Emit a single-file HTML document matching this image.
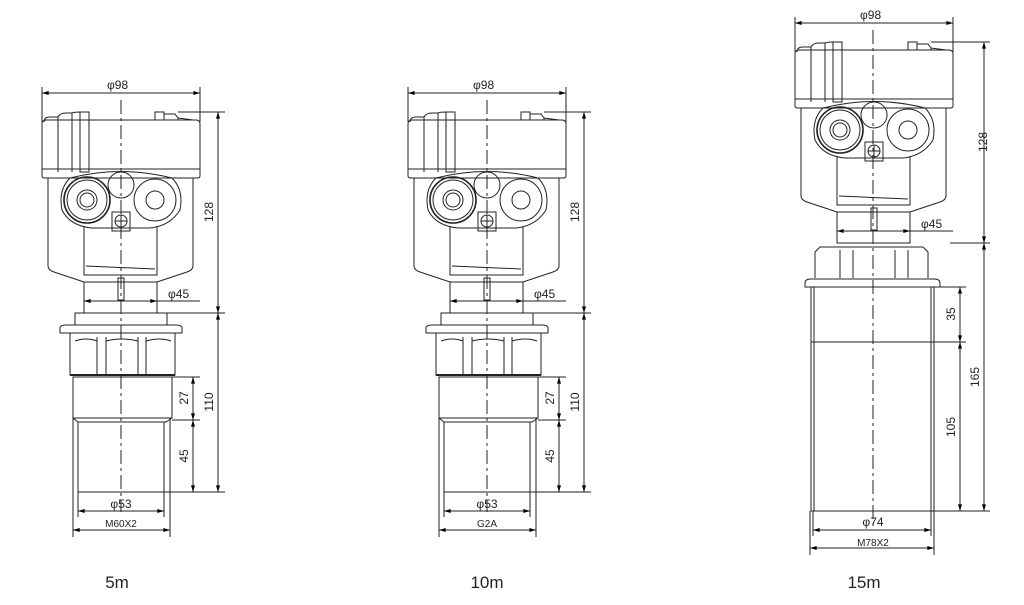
<!DOCTYPE html>
<html><head><meta charset="utf-8"><style>
html,body{margin:0;padding:0;background:#fff;}
svg{display:block}
text{font-family:"Liberation Sans",sans-serif;fill:#222}
</style></head><body>
<svg width="1024" height="605" viewBox="0 0 1024 605" xmlns="http://www.w3.org/2000/svg">
<defs>
<marker id="a" viewBox="0 0 10 6" refX="10" refY="3" markerWidth="8" markerHeight="4" orient="auto-start-reverse"><path d="M0,0 L10,3 L0,6 z" fill="#000"/></marker>
<g id="head" fill="none" stroke="#222" stroke-width="1">
  <line x1="42" y1="87" x2="42" y2="122"/>
  <line x1="200" y1="87" x2="200" y2="122"/>
  <line x1="42" y1="93" x2="200" y2="93" marker-start="url(#a)" marker-end="url(#a)"/>
  <path d="M44,122 Q44,117 50,117 L58,117 L58,172"/>
  <path d="M58,117 Q60,113 66,113 L72,113 L72,172"/>
  <path d="M72,117 L72,113 Q74,112 80,112 L80,172"/>
  <rect x="80" y="112" width="9" height="60"/>
  <rect x="155" y="112" width="9" height="8"/>
  <path d="M164,120 L164,114 L175,114 L178,118 L178,120"/>
  <path d="M178,118 L193,120"/>
  <path d="M42,124 Q42,120 46,120 L196,120 Q200,120 200,124 L200,176 Q200,178 197,178 L45,178 Q42,178 42,176 Z"/>
  <line x1="42" y1="169" x2="200" y2="169"/>
  <path d="M48,178 L48,266 Q48,270 54,272 L84,282 L157,282 L187,272 Q193,270 193,266 L193,178"/>
  <path d="M84,226 L84,275 L157,275 L157,226"/>
  <path d="M86,266 L155,269"/>
  <path d="M70,178 Q121,165 172,178 Q184,190 180,210 Q170,226 150,228 L92,228 Q70,226 62,210 Q58,190 70,178 Z"/>
  <circle cx="87" cy="200" r="23" stroke-width="1.6"/>
  <circle cx="87" cy="200" r="20"/>
  <circle cx="87" cy="200" r="10"/>
  <circle cx="87" cy="200" r="7"/>
  <circle cx="155" cy="200" r="21"/>
  <circle cx="155" cy="200" r="9"/>
  <circle cx="121" cy="185" r="13"/>
  <rect x="112" y="212" width="18" height="19"/>
  <circle cx="121" cy="221" r="6"/>
  <line x1="115" y1="221" x2="127" y2="221"/>
  <line x1="121" y1="215" x2="121" y2="227"/>
  <rect x="84" y="282" width="73" height="31"/>
  <rect x="118" y="278" width="6" height="22"/>
  <line x1="84" y1="301" x2="157" y2="301" marker-start="url(#a)" marker-end="url(#a)"/>
  <line x1="157" y1="301" x2="200" y2="301"/>
</g>
<g id="d128" fill="none" stroke="#222" stroke-width="1">
  <line x1="178" y1="112" x2="225" y2="112"/>
  <line x1="157" y1="313" x2="225" y2="313"/>
  <line x1="218" y1="112" x2="218" y2="313" marker-start="url(#a)" marker-end="url(#a)"/>
</g>
<g id="low" fill="none" stroke="#222" stroke-width="1">
  <rect x="75" y="313" width="92" height="12"/>
  <path d="M60,333 L60,328 Q60,325 66,325 L176,325 Q182,325 182,328 L182,333 Z"/>
  <rect x="70" y="333" width="105" height="42"/>
  <line x1="97" y1="337" x2="97" y2="375"/><line x1="106" y1="337" x2="106" y2="375"/>
  <line x1="138" y1="337" x2="138" y2="375"/><line x1="146" y1="337" x2="146" y2="375"/>
  <path d="M75,341 Q86,337 97,341 M106,341 Q122,337 138,341 M146,341 Q160,337 171,341"/>
  <rect x="73" y="377" width="99" height="41"/>
  <line x1="70" y1="375" x2="175" y2="375" stroke-width="2"/>
  <path d="M73,418 L78,422 L166,422 L172,418"/>
  <rect x="78" y="422" width="86" height="70"/>
  <line x1="172" y1="377" x2="200" y2="377"/>
  <line x1="172" y1="420" x2="200" y2="420"/>
  <line x1="164" y1="492" x2="225" y2="492"/>
  <line x1="193" y1="377" x2="193" y2="420" marker-start="url(#a)" marker-end="url(#a)"/>
  <line x1="193" y1="420" x2="193" y2="492" marker-start="url(#a)" marker-end="url(#a)"/>
  <line x1="218" y1="313" x2="218" y2="492" marker-start="url(#a)" marker-end="url(#a)"/>
  <line x1="78" y1="492" x2="78" y2="517"/><line x1="164" y1="492" x2="164" y2="517"/>
  <line x1="73" y1="418" x2="73" y2="537"/><line x1="170" y1="418" x2="170" y2="537"/>
  <line x1="78" y1="511" x2="164" y2="511" marker-start="url(#a)" marker-end="url(#a)"/>
  <line x1="73" y1="530" x2="170" y2="530" marker-start="url(#a)" marker-end="url(#a)"/>
</g>
</defs>

<use href="#head"/>
<use href="#d128"/>
<use href="#low"/>
<line x1="121" y1="100" x2="121" y2="512" stroke="#222" stroke-dasharray="14,4,3,4"/>
<text x="107" y="89" font-size="12">φ98</text>
<text x="168" y="298" font-size="12">φ45</text>
<text transform="translate(213,212) rotate(-90)" font-size="12" text-anchor="middle">128</text>
<text transform="translate(213,402) rotate(-90)" font-size="12" text-anchor="middle">110</text>
<text transform="translate(188,398) rotate(-90)" font-size="12" text-anchor="middle">27</text>
<text transform="translate(188,456) rotate(-90)" font-size="12" text-anchor="middle">45</text>
<text x="121" y="508" font-size="12" text-anchor="middle">φ53</text>
<text x="121" y="527" font-size="10" text-anchor="middle">M60X2</text>
<text x="117" y="588" font-size="17" text-anchor="middle">5m</text>

<g transform="translate(366,0)">
<use href="#head"/>
<use href="#d128"/>
<use href="#low"/>
<line x1="121" y1="100" x2="121" y2="512" stroke="#222" stroke-dasharray="14,4,3,4"/>
<text x="107" y="89" font-size="12">φ98</text>
<text x="168" y="298" font-size="12">φ45</text>
<text transform="translate(213,212) rotate(-90)" font-size="12" text-anchor="middle">128</text>
<text transform="translate(213,402) rotate(-90)" font-size="12" text-anchor="middle">110</text>
<text transform="translate(188,398) rotate(-90)" font-size="12" text-anchor="middle">27</text>
<text transform="translate(188,456) rotate(-90)" font-size="12" text-anchor="middle">45</text>
<text x="121" y="508" font-size="12" text-anchor="middle">φ53</text>
<text x="121" y="527" font-size="10" text-anchor="middle">G2A</text>
<text x="121" y="588" font-size="17" text-anchor="middle">10m</text>
</g>

<g transform="translate(753,-70)"><use href="#head"/>
<text x="107" y="89" font-size="12">φ98</text>
<text x="168" y="298" font-size="12">φ45</text>
<text transform="translate(234,212) rotate(-90)" font-size="12" text-anchor="middle">128</text>
</g>
<g fill="none" stroke="#222" stroke-width="1">
  <line x1="931" y1="42" x2="990" y2="42"/>
  <line x1="950" y1="243" x2="990" y2="243"/>
  <line x1="984" y1="42" x2="984" y2="243" marker-start="url(#a)" marker-end="url(#a)"/>
  <path d="M815,278 L815,252 L820,247 L923,247 L928,252 L928,278"/>
  <line x1="840" y1="250" x2="840" y2="278"/><line x1="853" y1="250" x2="853" y2="278"/>
  <line x1="895" y1="250" x2="895" y2="278"/><line x1="908" y1="250" x2="908" y2="278"/>
  <path d="M805,287 L805,283 Q805,279 811,279 L934,279 Q940,279 940,283 L940,287 Z"/>
  <rect x="811" y="287" width="123" height="224"/>
  <line x1="814" y1="287" x2="814" y2="511"/><line x1="931" y1="287" x2="931" y2="511"/>
  <line x1="811" y1="342" x2="966" y2="342"/>
  <line x1="940" y1="287" x2="966" y2="287"/>
  <line x1="934" y1="511" x2="990" y2="511"/>
  <line x1="960" y1="287" x2="960" y2="342" marker-start="url(#a)" marker-end="url(#a)"/>
  <line x1="960" y1="342" x2="960" y2="511" marker-start="url(#a)" marker-end="url(#a)"/>
  <line x1="984" y1="243" x2="984" y2="511" marker-start="url(#a)" marker-end="url(#a)"/>
  <line x1="813" y1="511" x2="813" y2="536"/><line x1="931" y1="511" x2="931" y2="536"/>
  <line x1="810" y1="511" x2="810" y2="555"/><line x1="934" y1="511" x2="934" y2="555"/>
  <line x1="813" y1="530" x2="931" y2="530" marker-start="url(#a)" marker-end="url(#a)"/>
  <line x1="810" y1="548" x2="934" y2="548" marker-start="url(#a)" marker-end="url(#a)"/>
</g>
<line x1="873" y1="30" x2="873" y2="530" stroke="#222" stroke-dasharray="14,4,3,4"/>
<text transform="translate(955,314) rotate(-90)" font-size="12" text-anchor="middle">35</text>
<text transform="translate(955,427) rotate(-90)" font-size="12" text-anchor="middle">105</text>
<text transform="translate(979,377) rotate(-90)" font-size="12" text-anchor="middle">165</text>
<text x="873" y="526" font-size="12" text-anchor="middle">φ74</text>
<text x="873" y="546" font-size="10" text-anchor="middle">M78X2</text>
<text x="864" y="588" font-size="17" text-anchor="middle">15m</text>
</svg>
</body></html>
